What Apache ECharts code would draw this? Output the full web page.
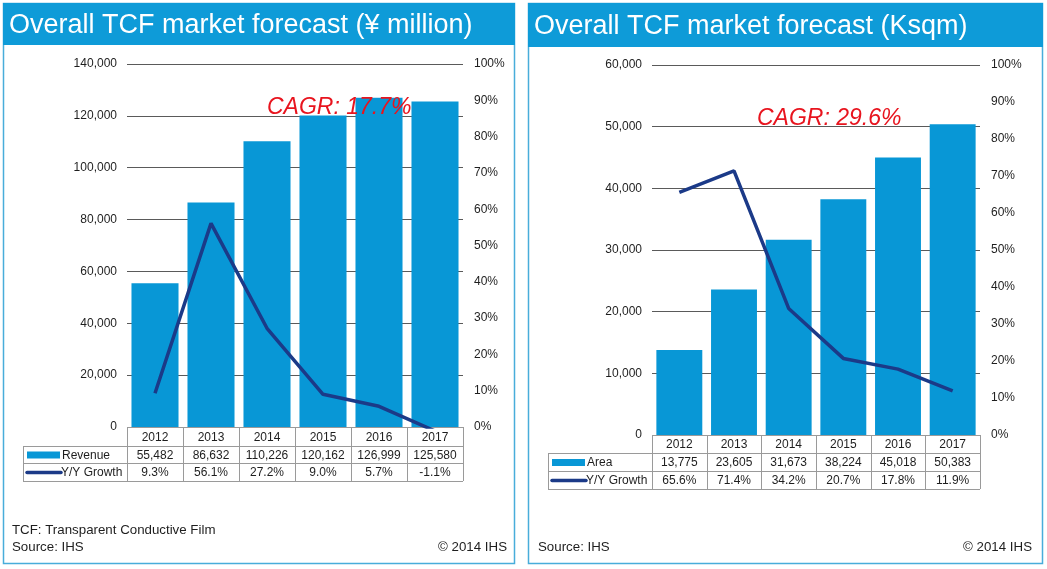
<!DOCTYPE html>
<html>
<head>
<meta charset="utf-8">
<script src="https://cdn.jsdelivr.net/npm/echarts@6/dist/echarts.min.js"></script>
<style>
html,body{margin:0;padding:0;background:#fff;}
#c{width:1047px;height:569px;}
</style>
</head>
<body>
<div id="c"></div>
<script>
// ---- data ----
const years = ['2012', '2013', '2014', '2015', '2016', '2017'];
const revenue = [55482, 86632, 110226, 120162, 126999, 125580];
const revenueGrowth = [9.3, 56.1, 27.2, 9.0, 5.7, -1.1];
const area = [13775, 23605, 31673, 38224, 45018, 50383];
const areaGrowth = [65.6, 71.4, 34.2, 20.7, 17.8, 11.9];
const titles = ['Overall TCF market forecast (\u00a5 million)', 'Overall TCF market forecast (Ksqm)'];
const cagrTexts = ['CAGR: 17.7%', 'CAGR: 29.6%'];
const barNames = ['Revenue', 'Area'];
const lineName = 'Y/Y Growth';

// ---- styles / layout ----
const FONT = '"Liberation Sans", Arial, sans-serif';
const BAR = '#0897D6';
const LINE = '#1B3A88';
const HEAD = '#0E9BD8';
const TXT = '#1e1e1e';
const GRIDC = '#5a5a5a';
const TBL = '#9a9a9a';

const G = [
  {left: 127, top: 64, width: 336, height: 363},
  {left: 652, top: 65, width: 328, height: 370}
];

const fmt = v => v.toLocaleString('en-US');
const pct = v => v.toFixed(1) + '%';

const graphics = [];

// panels
const panels = [{x: 3, y: 3, w: 511, h: 560, th: 42}, {x: 528, y: 3, w: 514, h: 560, th: 44}];
panels.forEach((p, i) => {
  graphics.push({type: 'rect', shape: {x: p.x + 0.5, y: p.y + 0.5, width: p.w, height: p.h},
    style: {fill: 'none', stroke: '#48ADDA', lineWidth: 1.5}, z: 1});
  graphics.push({type: 'rect', shape: {x: p.x, y: p.y, width: p.w + 1, height: p.th},
    style: {fill: HEAD}, z: 2});
  graphics.push({type: 'text', x: p.x + 6, y: p.y + p.th / 2 + 2,
    style: {text: titles[i], fill: '#fff', font: '27px ' + FONT, textVerticalAlign: 'middle'}, z: 3});
});

// CAGR labels
graphics.push({type: 'text', x: 267, y: 108, z: 50,
  style: {text: cagrTexts[0], fill: '#E8141E', font: 'italic 23px ' + FONT, textVerticalAlign: 'middle'}});
graphics.push({type: 'text', x: 757, y: 119, z: 50,
  style: {text: cagrTexts[1], fill: '#E8141E', font: 'italic 23px ' + FONT, textVerticalAlign: 'middle'}});

// footnotes
const FN = '13.3px ' + FONT;
graphics.push({type: 'text', x: 12, y: 530, style: {text: 'TCF: Transparent Conductive Film', fill: TXT, font: FN, textVerticalAlign: 'middle'}});
graphics.push({type: 'text', x: 12, y: 547, style: {text: 'Source: IHS', fill: TXT, font: FN, textVerticalAlign: 'middle'}});
graphics.push({type: 'text', x: 507, y: 547, style: {text: '\u00a9 2014 IHS', fill: TXT, font: FN, textAlign: 'right', textVerticalAlign: 'middle'}});
graphics.push({type: 'text', x: 538, y: 547, style: {text: 'Source: IHS', fill: TXT, font: FN, textVerticalAlign: 'middle'}});
graphics.push({type: 'text', x: 1032, y: 547, style: {text: '\u00a9 2014 IHS', fill: TXT, font: FN, textAlign: 'right', textVerticalAlign: 'middle'}});

// data tables
function buildTable(g, legendLeft, rows, barVals, lineVals, barName) {
  const n = years.length;
  const bw = g.width / n;
  const right = g.left + g.width;
  const line = (x1, y1, x2, y2) => graphics.push({type: 'line', z: 5,
    shape: {x1: x1, y1: y1, x2: x2, y2: y2}, style: {stroke: TBL, lineWidth: 1}});
  const text = (x, y, t, align) => graphics.push({type: 'text', x: x, y: y, z: 6,
    style: {text: t, fill: TXT, font: '12px ' + FONT, textAlign: align || 'center', textVerticalAlign: 'middle'}});
  // horizontal lines
  line(g.left, rows[0] + 0.5, right, rows[0] + 0.5);
  for (let r = 1; r < rows.length; r++) line(legendLeft, rows[r] + 0.5, right, rows[r] + 0.5);
  // vertical lines
  for (let c = 0; c <= n; c++) {
    const x = Math.round(g.left + c * bw) + 0.5;
    line(x, rows[0], x, rows[3]);
  }
  line(legendLeft + 0.5, rows[1], legendLeft + 0.5, rows[3]);
  // cells
  for (let c = 0; c < n; c++) {
    const cx = g.left + (c + 0.5) * bw;
    text(cx, (rows[0] + rows[1]) / 2 + 1, years[c]);
    text(cx, (rows[1] + rows[2]) / 2 + 1, fmt(barVals[c]));
    text(cx, (rows[2] + rows[3]) / 2 + 1, pct(lineVals[c]));
  }
  // legend keys
  const y1 = (rows[1] + rows[2]) / 2, y2 = (rows[2] + rows[3]) / 2;
  graphics.push({type: 'rect', z: 6, shape: {x: legendLeft + 4, y: y1 - 3, width: 33, height: 7}, style: {fill: BAR}});
  graphics.push({type: 'line', z: 6, shape: {x1: legendLeft + 4, y1: y2 + 0.5, x2: legendLeft + 38, y2: y2 + 0.5},
    style: {stroke: LINE, lineWidth: 3.5, lineCap: 'round'}});
  text(legendLeft + 39, y1 + 1, barName, 'left');
  text(legendLeft + 38, y2 + 1, lineName, 'left');
}
buildTable(G[0], 23, [427, 446, 463, 481], revenue, revenueGrowth, barNames[0]);
buildTable(G[1], 548, [435, 453, 471, 489], area, areaGrowth, barNames[1]);

const axisLabel = {color: TXT, fontFamily: FONT, fontSize: 12, margin: 10};

const option = {
  animation: false,
  backgroundColor: '#fff',
  grid: G.map(g => Object.assign({containLabel: false}, g)),
  xAxis: [0, 1].map(i => ({
    type: 'category', gridIndex: i, data: years,
    axisLine: {show: false}, axisTick: {show: false}, axisLabel: {show: false}
  })),
  yAxis: [
    {type: 'value', gridIndex: 0, min: 0, max: 140000, interval: 20000,
      axisLabel: Object.assign({formatter: v => fmt(v)}, axisLabel),
      axisLine: {show: false}, axisTick: {show: false},
      splitLine: {lineStyle: {color: GRIDC, width: 1}}},
    {type: 'value', gridIndex: 0, position: 'right', min: 0, max: 100, interval: 10,
      axisLabel: Object.assign({formatter: '{value}%'}, axisLabel, {margin: 11}),
      axisLine: {show: false}, axisTick: {show: false}, splitLine: {show: false}},
    {type: 'value', gridIndex: 1, min: 0, max: 60000, interval: 10000,
      axisLabel: Object.assign({formatter: v => fmt(v)}, axisLabel),
      axisLine: {show: false}, axisTick: {show: false},
      splitLine: {lineStyle: {color: GRIDC, width: 1}}},
    {type: 'value', gridIndex: 1, position: 'right', min: 0, max: 100, interval: 10,
      axisLabel: Object.assign({formatter: '{value}%'}, axisLabel, {margin: 11}),
      axisLine: {show: false}, axisTick: {show: false}, splitLine: {show: false}}
  ],
  series: [
    {type: 'bar', name: barNames[0], xAxisIndex: 0, yAxisIndex: 0, data: revenue,
      barCategoryGap: '16%', itemStyle: {color: BAR}},
    {type: 'line', name: lineName, xAxisIndex: 0, yAxisIndex: 1, data: revenueGrowth,
      symbol: 'none', lineStyle: {color: LINE, width: 3.5}, clip: true, z: 10},
    {type: 'bar', name: barNames[1], xAxisIndex: 1, yAxisIndex: 2, data: area,
      barCategoryGap: '16%', itemStyle: {color: BAR}},
    {type: 'line', name: lineName, xAxisIndex: 1, yAxisIndex: 3, data: areaGrowth,
      symbol: 'none', lineStyle: {color: LINE, width: 3.5}, clip: true, z: 10}
  ],
  graphic: {elements: graphics}
};

const chart = echarts.init(document.getElementById('c'), null, {renderer: 'canvas'});
chart.setOption(option);
</script>
</body>
</html>
